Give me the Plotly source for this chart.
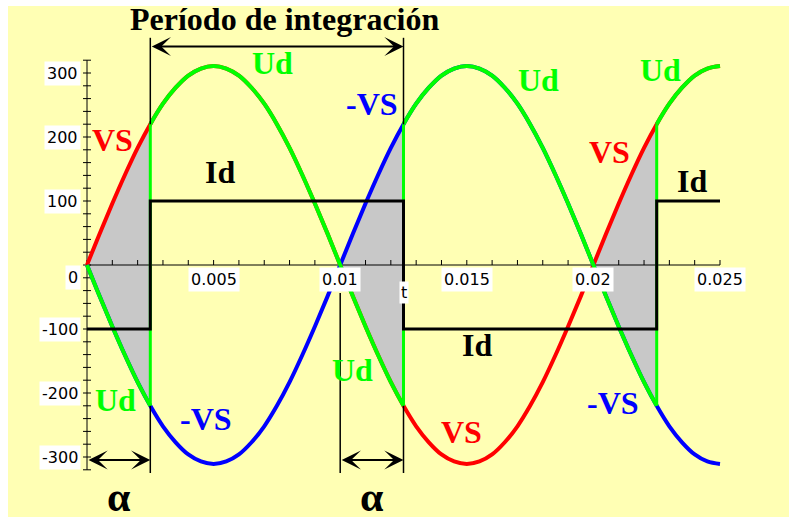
import plotly.graph_objects as go

# ---- data -----------------------------------------------------------------
# time axis (s) and source voltage VS (V), 50 Hz, 311 V peak
t = [0.0, 0.0005, 0.001, 0.0015, 0.002, 0.0025, 0.003, 0.0035, 0.004, 0.0045,
     0.005, 0.0055, 0.006, 0.0065, 0.007, 0.0075, 0.008, 0.0085, 0.009, 0.0095,
     0.01, 0.0105, 0.011, 0.0115, 0.012, 0.0125, 0.013, 0.0135, 0.014, 0.0145,
     0.015, 0.0155, 0.016, 0.0165, 0.017, 0.0175, 0.018, 0.0185, 0.019, 0.0195,
     0.02, 0.0205, 0.021, 0.0215, 0.022, 0.0225, 0.023, 0.0235, 0.024, 0.0245,
     0.025]
vs = [0, 49, 96, 141, 183, 220, 252, 277, 296, 307,
      311, 307, 296, 277, 252, 220, 183, 141, 96, 49,
      0, -49, -96, -141, -183, -220, -252, -277, -296, -307,
      -311, -307, -296, -277, -252, -220, -183, -141, -96, -49,
      0, 49, 96, 141, 183, 220, 252, 277, 296, 307,
      311]
neg_vs = [-v for v in vs]

# thyristor firing instants (alpha = 2.5 ms)
firing = [0.0025, 0.0125, 0.0225]

# load current Id (A)
id_t = [0.0, 0.0025, 0.0025, 0.0125, 0.0125, 0.0225, 0.0225, 0.025]
id_v = [-100, -100, 100, 100, -100, -100, 100, 100]

# intervals where the output follows the "wrong" half-wave (shaded)
shaded = [(0.0, 0.0025), (0.01, 0.0125), (0.02, 0.0225)]

x_tick_vals = [0.005, 0.01, 0.015, 0.02, 0.025]
x_tick_text = ["0.005", "0.01", "0.015", "0.02", "0.025"]
y_tick_vals = [-300, -200, -100, 0, 100, 200, 300]
y_tick_text = ["-300", "-200", "-100", "0", "100", "200", "300"]

# ---- geometry ---------------------------------------------------------------
W, H = 789, 520
X_PX0, X_PX_PER = 87, (720 - 87) / 0.025     # pixel of t=0, pixels per second
Y_PX0, Y_PX_PER = 265, 0.64                  # pixel of 0 V, pixels per volt


def at(xp, yp):
    """pixel position -> data coordinates"""
    return (xp - X_PX0) / X_PX_PER, (Y_PX0 - yp) / Y_PX_PER


x_range = [-X_PX0 / X_PX_PER, (W - X_PX0) / X_PX_PER]
y_range = [-(H - Y_PX0) / Y_PX_PER, Y_PX0 / Y_PX_PER]

RED, BLUE, GREEN, GREY = "#FF0000", "#0000FF", "#00FF00", "#C8C8C8"
YELLOW = "#FFFFB4"

fig = go.Figure()

# shaded areas between VS and -VS
for a, b in shaded:
    idx = [i for i, ti in enumerate(t) if a - 1e-9 <= ti <= b + 1e-9]
    xs = [t[i] for i in idx] + [t[i] for i in reversed(idx)]
    ys = [vs[i] for i in idx] + [neg_vs[i] for i in reversed(idx)]
    fig.add_trace(go.Scatter(x=xs, y=ys, fill="toself", fillcolor=GREY,
                             mode="lines", line=dict(width=0), hoverinfo="skip"))

# axes drawn through the origin
x_minor = [round(k * 0.001, 4) for k in range(0, 26)]
y_minor = [k * 20 for k in range(-16, 17)]
dx_tick = 4 / X_PX_PER
dy_tick = 5 / Y_PX_PER
ax_x, ax_y = [0, 0.025, None], [0, 0, None]
for xv in x_minor:
    ax_x += [xv, xv, None]
    ax_y += [0, dy_tick, None]
ax_x += [0, 0, None]
ax_y += [-320, 320, None]
for yv in y_minor:
    ax_x += [-dx_tick, dx_tick, None]
    ax_y += [yv, yv, None]
fig.add_trace(go.Scatter(x=ax_x, y=ax_y, mode="lines",
                         line=dict(color="black", width=1), hoverinfo="skip"))

# VS and -VS
fig.add_trace(go.Scatter(x=t, y=vs, mode="lines",
                         line=dict(color=RED, width=4, shape="spline")))
fig.add_trace(go.Scatter(x=t, y=neg_vs, mode="lines",
                         line=dict(color=BLUE, width=4, shape="spline")))

# output voltage Ud: follows -VS / VS, switching at each firing instant
bounds = [t[0]] + firing + [t[-1]]
ud_x, ud_y = [], []
sign = -1
for a, b in zip(bounds[:-1], bounds[1:]):
    for ti, v in zip(t, vs):
        if a - 1e-9 <= ti <= b + 1e-9:
            ud_x.append(ti)
            ud_y.append(sign * v)
    ud_x.append(None)
    ud_y.append(None)
    sign = -sign
fig.add_trace(go.Scatter(x=ud_x, y=ud_y, mode="lines",
                         line=dict(color=GREEN, width=4, shape="spline")))
jx, jy = [], []
for f in firing:
    i = min(range(len(t)), key=lambda k: abs(t[k] - f))
    jx += [f, f, None]
    jy += [vs[i], neg_vs[i], None]
fig.add_trace(go.Scatter(x=jx, y=jy, mode="lines",
                         line=dict(color=GREEN, width=3)))

# load current
fig.add_trace(go.Scatter(x=id_t, y=id_v, mode="lines",
                         line=dict(color="black", width=3)))

# thin guide lines
top_v, bot_v = 355, -325
gx, gy = [], []
for f in firing[:2]:
    i = min(range(len(t)), key=lambda k: abs(t[k] - f))
    hi = abs(vs[i])
    gx += [f, f, None, f, f, None]
    gy += [top_v, hi, None, -hi, bot_v, None]
gx += [0.01, 0.01, None]
gy += [at(0, 293)[1], bot_v, None]
fig.add_trace(go.Scatter(x=gx, y=gy, mode="lines",
                         line=dict(color="black", width=1.5), hoverinfo="skip"))

annotations = []

# double arrows
arrow_y_top = at(0, 46.5)[1]
arrow_y_bot = at(0, 460)[1]
for (x0, x1, yv) in [(firing[0], firing[1], arrow_y_top),
                     (0.0, firing[0], arrow_y_bot),
                     (0.01, firing[1], arrow_y_bot)]:
    annotations.append(dict(x=x1, y=yv, ax=x0, ay=yv, xref="x", yref="y",
                            axref="x", ayref="y", text="", showarrow=True,
                            arrowhead=3, startarrowhead=3, arrowside="end+start",
                            arrowwidth=2, arrowsize=1.6, startarrowsize=1.6,
                            arrowcolor="black", standoff=0, startstandoff=0))

SERIF = "Liberation Serif"
SANS = "DejaVu Sans"

# curve labels
labels = [
    ("Período de integración", 284, 19, "black", 32),
    ("Ud", 272, 63, GREEN, 32),
    ("Ud", 538, 80, GREEN, 32),
    ("Ud", 660, 70, GREEN, 32),
    ("VS", 112, 140, RED, 32),
    ("-VS", 372, 104, BLUE, 32),
    ("VS", 609, 152, RED, 32),
    ("Id", 220, 172, "black", 32),
    ("Id", 477, 345, "black", 32),
    ("Id", 692, 181, "black", 32),
    ("Ud", 115, 400, GREEN, 32),
    ("-VS", 206, 419, BLUE, 32),
    ("Ud", 352, 370, GREEN, 32),
    ("VS", 461, 432, RED, 32),
    ("-VS", 613, 403, BLUE, 32),
]
for text, xp, yp, col, size in labels:
    xv, yv = at(xp, yp)
    annotations.append(dict(x=xv, y=yv, xref="x", yref="y", text=f"<b>{text}</b>",
                            showarrow=False, xanchor="center", yanchor="middle",
                            font=dict(family=SERIF, size=size, color=col)))

for a, b in [(0.0, firing[0]), (0.01, firing[1])]:
    annotations.append(dict(x=(a + b) / 2, y=at(0, 497)[1], xref="x", yref="y",
                            text="<b>α</b>", showarrow=False,
                            font=dict(family=SERIF, size=42, color="black")))

# tick labels
for v, s in zip(y_tick_vals, y_tick_text):
    annotations.append(dict(x=0, y=v, xref="x", yref="y", text=s, showarrow=False,
                            xanchor="right", yanchor="middle", xshift=-6,
                            yshift=-12 if v == 0 else 0, bgcolor="white", borderpad=2,
                            font=dict(family=SANS, size=16, color="black")))
for v, s in zip(x_tick_vals, x_tick_text):
    annotations.append(dict(x=v, y=0, xref="x", yref="y", text=s, showarrow=False,
                            xanchor="center", yanchor="top", yshift=-2,
                            bgcolor="white", borderpad=2,
                            font=dict(family=SANS, size=16, color="black")))
annotations.append(dict(x=firing[1], y=0, xref="x", yref="y", text="t",
                        showarrow=False, xanchor="center", yanchor="top", yshift=-16,
                        bgcolor="white", borderpad=1,
                        font=dict(family=SANS, size=16, color="black")))

fig.update_layout(
    width=W, height=H, margin=dict(l=0, r=0, t=0, b=0),
    paper_bgcolor="white", plot_bgcolor="rgba(0,0,0,0)",
    showlegend=False,
    xaxis=dict(range=x_range, visible=False, fixedrange=True),
    yaxis=dict(range=y_range, visible=False, fixedrange=True),
    annotations=annotations,
    shapes=[dict(type="rect", xref="paper", yref="paper",
                 x0=8 / W, x1=1, y0=3 / H, y1=1 - 6 / H,
                 fillcolor=YELLOW, line=dict(width=0), layer="below")],
)

fig.write_html("out.html")
